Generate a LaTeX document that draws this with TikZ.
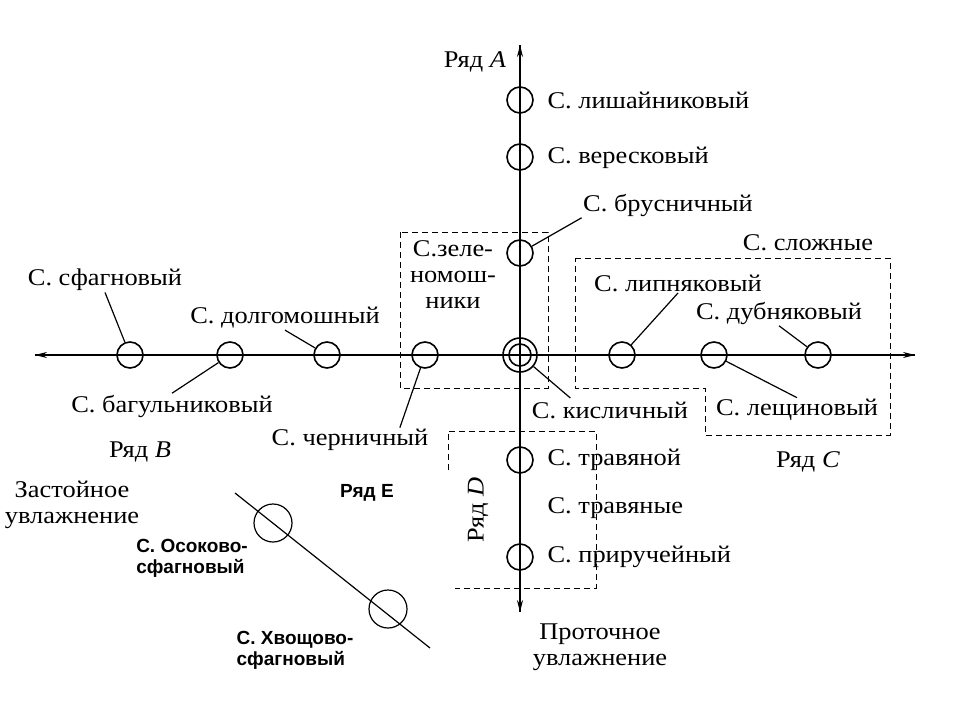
\documentclass[tikz,border=0pt]{standalone}
\usepackage{fontspec}
\setmainfont{Liberation Serif}[FakeStretch=1.1]
\setsansfont{Liberation Sans}
\usetikzlibrary{arrows.meta}
\begin{document}
\begin{tikzpicture}[
    x=1pt,y=-1pt,
    line width=1.2pt,
    assoc/.style={circle,draw,line width=1.6pt,minimum size=26pt,inner sep=0pt},
    big/.style={circle,draw,line width=1.2pt,minimum size=38pt,inner sep=0pt},
    lab/.style={font=\fontsize{24}{26}\selectfont,inner sep=1pt},
    blab/.style={font=\sffamily\bfseries\fontsize{19}{21}\selectfont,inner sep=1pt,align=left},
    box/.style={dash pattern=on 6pt off 4pt,line width=0.9pt}
  ]
  \useasboundingbox (0,0) rectangle (960,720);

  % axes
  \coordinate (top) at (520,45);
  \coordinate (bot) at (520,612);
  \coordinate (lft) at (35,355);
  \coordinate (rgt) at (915,355);
  \draw[-{Stealth[length=12pt,width=6pt]}] (bot) -- (top);
  \draw[-{Stealth[length=12pt,width=6pt]}] (top) -- (bot);
  \draw[-{Stealth[length=12pt,width=6pt]}] (rgt) -- (lft);
  \draw[-{Stealth[length=12pt,width=6pt]}] (lft) -- (rgt);

  % row A
  \node (a1) at (520,100) [assoc]{};
  \node (a2) at (520,157) [assoc]{};
  \node (a3) at (520,253) [assoc]{};
  \node (c0) at (520,355) [assoc,minimum size=34pt]{};
  \node (c1) at (520,355) [assoc,minimum size=22pt]{};
  % row B
  \node (b1) at (130,355) [assoc]{};
  \node (b2) at (230,355) [assoc]{};
  \node (b3) at (327,355) [assoc]{};
  \node (b4) at (425,355) [assoc]{};
  % row C
  \node (r1) at (622,355) [assoc]{};
  \node (r2) at (714,355) [assoc]{};
  \node (r3) at (818,355) [assoc]{};
  % row D
  \node (d1) at (520,460) [assoc]{};
  \node (d2) at (520,557) [assoc]{};

  % labels
  \node (la) at (475,62) [lab]{Ряд \textit{A}};
  \node (t1) at (546,100) [lab,anchor=west]{С. лишайниковый};
  \node (t2) at (546,158) [lab,anchor=west]{С. вересковый};
  \node (t3) at (668,205) [lab]{С. брусничный};
  \node (t4) at (453,275) [lab,align=center]{С.зеле-\\номош-\\ники};
  \node (t5) at (808,243) [lab]{С. сложные};
  \node (t6) at (678,283) [lab]{С. липняковый};
  \node (t7) at (779,313) [lab]{С. дубняковый};
  \node (t8) at (610,410) [lab]{С. кисличный};
  \node (t9) at (797,410) [lab]{С. лещиновый};
  \node (s1) at (105,280) [lab]{С. сфагновый};
  \node (s2) at (285,318) [lab]{С. долгомошный};
  \node (s3) at (172,406) [lab]{С. багульниковый};
  \node (s4) at (350,440) [lab]{С. черничный};
  \node (lb) at (140,452) [lab]{Ряд \textit{B}};
  \node (lc) at (808,462) [lab]{Ряд \textit{C}};
  \node (u1) at (546,460) [lab,anchor=west]{С. травяной};
  \node (u2) at (546,508) [lab,anchor=west]{С. травяные};
  \node (u3) at (546,557) [lab,anchor=west]{С. приручейный};
  \node (ld) at (478,510) [lab,rotate=90]{Ряд \textit{D}};
  \node (fl) at (600,647) [lab,align=center]{Проточное\\увлажнение};
  \node (st) at (72,505) [lab,align=center]{Застойное\\увлажнение};

  % pointers
  \draw (a3) -- (t3.south west);
  \draw (b1) -- (s1.south);
  \draw (b2) -- (s3.north);
  \draw (b3) -- (s2.south);
  \draw (b4) -- ([xshift=-30pt]s4.north east);
  \draw (r1) -- (t6.south);
  \draw (r2) -- (t9.north);
  \draw (r3) -- (t7.south);
  \draw (c0) -- ([xshift=40pt,yshift=2pt]t8.north west);

  % dashed groups
  \draw[box] (400,232) rectangle (548,388);
  \draw[box] (575,258) -- (890,258) -- (890,435) -- (705,435) -- (705,388) -- (575,388) -- cycle;
  \draw[box] (448,470) -- (448,431) -- (596,431) -- (596,588) -- (455,588);

  % row E
  \coordinate (e0) at (235,493);
  \coordinate (e3) at (430,648);
  \draw[line width=1.2pt] (e0) -- (e3);
  \node (e1) at (273,523) [big]{};
  \node (e2) at (388,609) [big]{};
  \node (le) at (367,493) [blab]{Ряд Е};
  \node (w1) at (192,558) [blab]{С. Осоково-\\сфагновый};
  \node (w2) at (295,650) [blab]{С. Хвощово-\\сфагновый};
\end{tikzpicture}
\end{document}
